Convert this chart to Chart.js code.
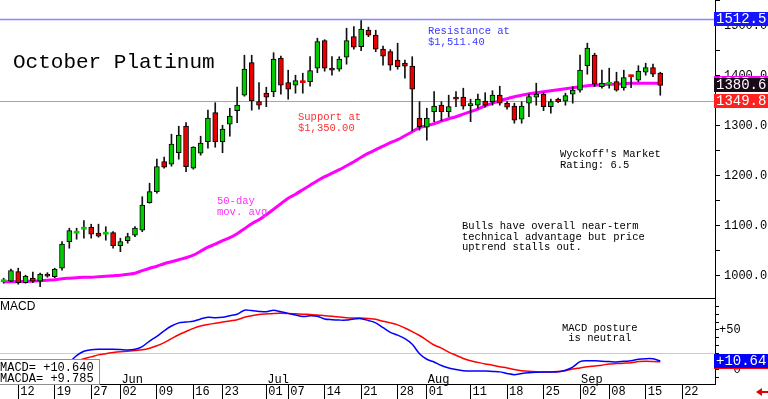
<!DOCTYPE html>
<html>
<head>
<meta charset="utf-8">
<script src="https://cdn.jsdelivr.net/npm/chart.js@4.4.1/dist/chart.umd.min.js"></script>
<style>
  html, body { margin: 0; padding: 0; background: #fff; }
  #wrap { position: relative; width: 768px; height: 399px; overflow: hidden; background: #fff; }
  canvas { position: absolute; left: 0; }
  #priceChart { top: 0; }
  #macdChart { top: 299px; }
</style>
</head>
<body>
<div id="wrap">
  <canvas id="priceChart" width="768" height="299"></canvas>
  <canvas id="macdChart" width="768" height="100"></canvas>
</div>
<script>
// trading days shown on the axis (last week of Sep is empty space)
const tradingDays = {
    May: [8, 9, 12, 13, 14, 15, 16, 19, 20, 21, 22, 23, 27, 28, 29, 30],
    Jun: [2, 3, 4, 5, 6, 9, 10, 11, 12, 13, 16, 17, 18, 20, 23, 24, 25, 26, 27, 30],
    Jul: [1, 2, 3, 7, 8, 9, 10, 11, 14, 15, 16, 17, 18, 21, 22, 23, 24, 25, 28, 29, 30, 31],
    Aug: [1, 4, 5, 6, 7, 8, 11, 12, 13, 14, 15, 18, 19, 20, 21, 22, 25, 26, 27, 28, 29],
    Sep: [2, 3, 4, 5, 8, 9, 10, 11, 12, 15, 16, 17, 18, 19, 22, 23, 24, 25, 26]
};

const opens = [988, 989, 1008, 986, 995, 989, 1003, 998, 1015, 1068,
    1085, 1093, 1097, 1085, 1083, 1086, 1060, 1070, 1081, 1091,
    1146, 1168, 1228, 1223, 1246, 1299, 1215, 1245, 1268, 1326,
    1268, 1303, 1330, 1361, 1426, 1348, 1365, 1368, 1435, 1386,
    1381, 1387, 1388, 1415, 1470, 1415, 1413, 1437, 1478, 1458,
    1491, 1481, 1453, 1448, 1431, 1425, 1419, 1315, 1297, 1328,
    1341, 1328, 1357, 1357, 1340, 1341, 1349, 1348, 1361, 1345,
    1339, 1313, 1345, 1357, 1363, 1338, 1353, 1349, 1363, 1371,
    1420, 1441, 1378, 1383, 1388, 1376, 1398.5, 1391, 1407, 1416,
    1405];
const highs = [995, 1013, 1015, 1001, 1007, 1005, 1006, 1015, 1068, 1095,
    1095, 1110, 1103, 1103, 1098, 1088, 1075, 1085, 1098, 1158,
    1185, 1233, 1237, 1283, 1299, 1306, 1258, 1279, 1331, 1346,
    1301, 1335, 1377, 1441, 1441, 1386, 1377, 1446, 1439, 1411,
    1401, 1405, 1438, 1475, 1472, 1438, 1438, 1495, 1498, 1510,
    1497, 1491, 1459, 1452, 1465, 1431, 1438, 1348, 1335, 1368,
    1348, 1361, 1368, 1375, 1353, 1363, 1366, 1370, 1379, 1348,
    1345, 1348, 1363, 1385, 1366, 1353, 1355, 1365, 1378, 1441,
    1465, 1445, 1411, 1415, 1407, 1411, 1401, 1420, 1425, 1423,
    1407];
const lows = [985, 988, 983, 985, 986, 978, 997, 996, 1011, 1055,
    1073, 1075, 1075, 1077, 1071, 1055, 1048, 1065, 1078, 1088,
    1145, 1165, 1215, 1219, 1233, 1208, 1213, 1241, 1255, 1257,
    1246, 1279, 1306, 1359, 1331, 1333, 1338, 1358, 1363, 1353,
    1365, 1365, 1379, 1406, 1409, 1401, 1409, 1423, 1453, 1450,
    1478, 1448, 1421, 1411, 1413, 1395, 1290, 1291, 1271, 1308,
    1310, 1318, 1338, 1333, 1308, 1335, 1337, 1341, 1341, 1333,
    1305, 1305, 1318, 1341, 1330, 1325, 1346, 1341, 1345, 1367,
    1403, 1378, 1375, 1375, 1369, 1371, 1376, 1388, 1401, 1398,
    1361];
const closes = [988, 1010, 986, 999, 989, 1003, 999, 1013, 1063, 1090,
    1086, 1093, 1083, 1079, 1083, 1060, 1068, 1078, 1095, 1141,
    1168, 1218, 1217, 1263, 1281, 1218, 1257, 1265, 1315, 1268,
    1293, 1319, 1341, 1413, 1350, 1341, 1357, 1433, 1381, 1373,
    1390, 1386, 1410, 1468, 1415, 1411, 1433, 1470, 1457, 1493,
    1481, 1453, 1439, 1421, 1418, 1419, 1373, 1298, 1315, 1339,
    1328, 1338, 1353, 1339, 1343, 1353, 1341, 1361, 1345, 1337,
    1311, 1339, 1358, 1363, 1338, 1348, 1348, 1360, 1371, 1411,
    1455, 1383, 1385, 1383, 1371, 1396, 1398, 1409, 1416, 1403,
    1380.6];
const ma50 = [988, 988, 988, 989, 989, 990, 991, 992, 994, 995,
    996, 997, 997, 998, 999, 1000, 1001, 1003, 1005, 1010,
    1015, 1019, 1024, 1028, 1032, 1036, 1041, 1049, 1057, 1063,
    1070, 1076, 1084, 1094, 1104, 1112, 1122, 1133, 1144, 1155,
    1163, 1172, 1181, 1190, 1198, 1205, 1212, 1220, 1228, 1237,
    1245, 1252, 1259, 1266, 1272, 1280, 1288, 1296, 1300, 1304,
    1309, 1314, 1318, 1323, 1328, 1333, 1340, 1345, 1350, 1354,
    1358, 1361, 1364, 1366, 1368, 1370, 1372, 1374, 1376, 1378,
    1380, 1381, 1382, 1383, 1383, 1384, 1385, 1385, 1385, 1385,
    1385];
const macd = [-5, -5, -4, -4, -3, -3, -2, -1, 1, 9,
    17.5, 23, 25, 25.6, 25.6, 25.6, 25.2, 24.7, 25.5, 29,
    36, 42, 49, 55, 59, 60, 61, 64, 66, 65.5,
    66, 68, 70, 75, 74.5, 73.5, 73, 75, 73, 71,
    69, 67, 68, 67.5, 64, 63, 62.5, 62.5, 64, 64.3,
    62, 59, 53, 47, 43.5, 39, 32, 20, 13, 9.5,
    5, 2, 0, -1.5, -2, -2, -2, -2.5, -3, -5,
    -6.5, -5, -4, -3.5, -3.2, -3.2, -3, -1, 3, 10,
    11.1, 11.1, 10.5, 10, 9.5, 10.3, 11, 13, 13.7, 13.5,
    10.64];
const macdAvg = [-3, -3, -3, -2.5, -2.5, -2, -1.5, 0, 3, 7,
    11, 13.5, 16, 18.5, 20, 21.5, 22.5, 23, 24, 25,
    27, 30, 34, 39, 44, 48, 52, 55, 57, 58.5,
    60, 61.5, 63, 66, 68, 69.5, 70.3, 71, 71.1, 71,
    70.5, 70, 69.5, 69, 68, 67.5, 66.5, 65.5, 65.2, 65.2,
    64.5, 63.5, 61, 59, 56.5, 52.5, 48, 43, 37, 31,
    27, 22, 18, 14, 11, 9, 7, 5.5, 3.5, 2,
    0, -1.5, -2.3, -2.8, -3.1, -3.2, -2.5, -1.5, 0.5, 2,
    3.5, 4.5, 5.5, 7, 7.5, 8, 8.6, 10, 10.4, 10.2,
    9.785];

const tickDates = ['May 12', 'May 19', 'May 27', 'Jun 02', 'Jun 09', 'Jun 16', 'Jun 23',
    'Jul 01', 'Jul 07', 'Jul 14', 'Jul 21', 'Jul 28', 'Aug 01', 'Aug 11', 'Aug 18', 'Aug 25',
    'Sep 02', 'Sep 08', 'Sep 15', 'Sep 22'];
const monthStarts = ['Jun 02', 'Jul 01', 'Aug 01', 'Sep 02'];
const monthNames = ['Jun', 'Jul', 'Aug', 'Sep'];

const resistance = 1512.5;
const support = 1349.8;
const macdRefLine = 21;

const dates = [];
for (const m in tradingDays) {
    tradingDays[m].forEach(d => dates.push(m + ' ' + String(d).padStart(2, '0')));
}

const UP = '#00cc00';
const DOWN = '#e80000';
const MONO = 'Liberation Mono';
const AXIS_W = 53;

// keep the plot area flush with the canvas edges
function noPad(s) {
    s.paddingTop = 0;
    s.paddingBottom = 0;
    s.paddingLeft = 0;
    s.paddingRight = 0;
}

function drawText(ctx, lines, x, y, color, lh) {
    ctx.save();
    ctx.fillStyle = color;
    ctx.font = '10.5px "' + MONO + '"';
    ctx.textBaseline = 'alphabetic';
    ctx.textAlign = 'left';
    for (let i = 0; i < lines.length; i++) {
        ctx.fillText(lines[i], x, y + i * lh);
    }
    ctx.restore();
}

function tag(ctx, y, bg, text) {
    ctx.save();
    ctx.fillStyle = bg;
    ctx.fillRect(714, Math.round(y) - 7, 54, 14);
    ctx.fillStyle = '#fff';
    ctx.font = '14px "' + MONO + '"';
    ctx.textBaseline = 'middle';
    ctx.fillText(text, 716, Math.round(y) + 0.5);
    ctx.restore();
}

const priceDecor = {
    id: 'priceDecor',
    beforeDatasetsDraw(chart) {
        const ctx = chart.ctx;
        const y = chart.scales.y;
        const area = chart.chartArea;
        ctx.save();
        ctx.strokeStyle = '#8888ff';
        ctx.lineWidth = 1.5;
        ctx.beginPath();
        ctx.moveTo(area.left, y.getPixelForValue(resistance));
        ctx.lineTo(area.right, y.getPixelForValue(resistance));
        ctx.stroke();
        ctx.strokeStyle = '#ff8080';
        ctx.lineWidth = 1;
        ctx.beginPath();
        ctx.moveTo(area.left, Math.round(y.getPixelForValue(support)) + 0.5);
        ctx.lineTo(area.right, Math.round(y.getPixelForValue(support)) + 0.5);
        ctx.stroke();
        ctx.restore();
    },
    afterDraw(chart) {
        const ctx = chart.ctx;
        const y = chart.scales.y;
        const last = closes.length - 1;

        ctx.save();
        ctx.fillStyle = '#000';
        ctx.font = '21px "' + MONO + '"';
        ctx.fillText('October Platinum', 13, 68);
        ctx.restore();

        drawText(ctx, ['Resistance at', '$1,511.40'], 428, 34, '#3a3aff', 10.7);
        drawText(ctx, ['Support at', '$1,350.00'], 298, 120, '#ff3030', 10.7);
        drawText(ctx, ['50-day', 'mov. avg'], 217, 204, '#ff30ff', 10.7);
        drawText(ctx, ["Wyckoff's Market", 'Rating: 6.5'], 560, 157, '#000', 10.7);
        drawText(ctx, ['Bulls have overall near-term', 'technical advantage but price',
            'uptrend stalls out.'], 462, 229, '#000', 10.7);

        tag(ctx, y.getPixelForValue(ma50[last]), '#ff00ff', ma50[last].toFixed(1));
        tag(ctx, y.getPixelForValue(closes[last]), '#1a0a1a', closes[last].toFixed(1));
        tag(ctx, y.getPixelForValue(support), '#ff2020', support.toFixed(1));
        tag(ctx, y.getPixelForValue(resistance), '#1414ff', resistance.toFixed(1));
    }
};

new Chart(document.getElementById('priceChart'), {
    type: 'bar',
    data: {
        labels: dates,
        datasets: [{
                type: 'line',
                data: ma50,
                borderColor: '#ff00ff',
                borderWidth: 3,
                pointRadius: 0,
                tension: 0.3,
                order: 3
            },
            {
                data: lows.map((l, i) => [l, highs[i]]),
                backgroundColor: '#111',
                barThickness: 1,
                grouped: false,
                order: 2
            },
            {
                data: opens.map((o, i) => [o, closes[i]]),
                backgroundColor: closes.map((c, i) => c >= opens[i] ? UP : DOWN),
                borderColor: '#000',
                borderWidth: ctx => Math.abs(opens[ctx.dataIndex] - closes[ctx.dataIndex]) < 3 ? 0 : 1,
                borderSkipped: false,
                barThickness: 5,
                minBarLength: 2,
                grouped: false,
                order: 1
            }
        ]
    },
    options: {
        responsive: false,
        animation: false,
        devicePixelRatio: 1,
        layout: { padding: 0, autoPadding: false },
        plugins: { legend: { display: false }, tooltip: { enabled: false } },
        scales: {
            x: {
                offset: true,
                grid: { display: false, drawTicks: false },
                ticks: { display: false },
                border: { display: true, color: '#000', width: 1 },
                afterFit: s => { s.height = 1; noPad(s); }
            },
            y: {
                position: 'right',
                min: 955.4,
                max: 1551.4,
                grid: { drawOnChartArea: false, tickLength: 5, color: '#000' },
                border: { color: '#000', width: 1 },
                ticks: {
                    stepSize: 50,
                    includeBounds: false,
                    autoSkip: false,
                    padding: 4,
                    color: '#000',
                    font: { family: MONO, size: 12 },
                    callback: v => v % 100 === 0 ? v.toFixed(1) : ''
                },
                afterFit: s => { s.width = AXIS_W; noPad(s); }
            }
        }
    },
    plugins: [priceDecor]
});

const macdDecor = {
    id: 'macdDecor',
    beforeDatasetsDraw(chart) {
        const ctx = chart.ctx;
        const area = chart.chartArea;
        const yy = Math.round(chart.scales.y.getPixelForValue(macdRefLine)) + 0.5;
        ctx.save();
        ctx.strokeStyle = '#ffb4b4';
        ctx.lineWidth = 1;
        ctx.beginPath();
        ctx.moveTo(area.left, yy);
        ctx.lineTo(area.right, yy);
        ctx.stroke();
        ctx.restore();
    },
    afterDraw(chart) {
        const ctx = chart.ctx;
        const x = chart.scales.x;
        const y = chart.scales.y;
        const last = macd.length - 1;

        ctx.save();
        ctx.fillStyle = '#000';
        ctx.font = '12px "Liberation Sans"';
        ctx.fillText('MACD', 0, 11);
        ctx.font = '12px "' + MONO + '"';
        for (let i = 0; i < monthStarts.length; i++) {
            const px = x.getPixelForValue(dates.indexOf(monthStarts[i]));
            ctx.fillText(monthNames[i], px + 1, 84);
        }

        // value box, lower left
        ctx.fillStyle = '#fff';
        ctx.fillRect(-2, 60, 102, 26);
        ctx.strokeStyle = '#909090';
        ctx.lineWidth = 1;
        ctx.strokeRect(-1.5, 60.5, 101, 25);
        ctx.fillStyle = '#000';
        ctx.fillText('MACD= +' + macd[last].toFixed(3), 0, 72);
        ctx.fillText('MACDA= +' + macdAvg[last].toFixed(3), 0, 83);

        // little red arrow bottom right
        ctx.fillStyle = '#e00000';
        ctx.beginPath();
        ctx.moveTo(756, 93);
        ctx.lineTo(762, 89);
        ctx.lineTo(762, 97);
        ctx.closePath();
        ctx.fill();
        ctx.fillRect(761, 92, 7, 2);
        ctx.restore();

        drawText(ctx, ['MACD posture', ' is neutral'], 562, 31.5, '#000', 10.7);

        tag(ctx, y.getPixelForValue(macdAvg[last]), '#ff0000', '');
        tag(ctx, y.getPixelForValue(macd[last]), '#0000ff', '+' + macd[last].toFixed(2));
    }
};

new Chart(document.getElementById('macdChart'), {
    type: 'line',
    data: {
        labels: dates,
        datasets: [{
                data: macd,
                borderColor: '#0000ff',
                borderWidth: 1.5,
                pointRadius: 0,
                tension: 0.3
            },
            {
                data: macdAvg,
                borderColor: '#ff0000',
                borderWidth: 1.5,
                pointRadius: 0,
                tension: 0.3
            }
        ]
    },
    options: {
        responsive: false,
        animation: false,
        devicePixelRatio: 1,
        layout: { padding: 0, autoPadding: false },
        plugins: { legend: { display: false }, tooltip: { enabled: false } },
        scales: {
            x: {
                offset: true,
                grid: { drawOnChartArea: false, offset: false, tickLength: 15, color: '#000' },
                border: { color: '#000', width: 1 },
                ticks: {
                    autoSkip: false,
                    maxRotation: 0,
                    align: 'start',
                    padding: -14,
                    labelOffset: 2,
                    color: '#000',
                    font: { family: MONO, size: 12 },
                    callback: v => tickDates.includes(dates[v]) ? dates[v].slice(4) : null
                },
                afterFit: s => { s.height = 15; noPad(s); }
            },
            y: {
                position: 'right',
                min: -18.35,
                max: 89.2,
                grid: { drawOnChartArea: false, tickLength: 4, color: '#000' },
                border: { color: '#000', width: 1 },
                ticks: {
                    stepSize: 10,
                    includeBounds: false,
                    autoSkip: false,
                    padding: 0,
                    color: '#000',
                    font: { family: MONO, size: 12 },
                    callback: v => v === 50 ? '+50' : (v === 0 ? '  0' : '')
                },
                afterFit: s => { s.width = AXIS_W; noPad(s); }
            }
        }
    },
    plugins: [macdDecor]
});
</script>
</body>
</html>
